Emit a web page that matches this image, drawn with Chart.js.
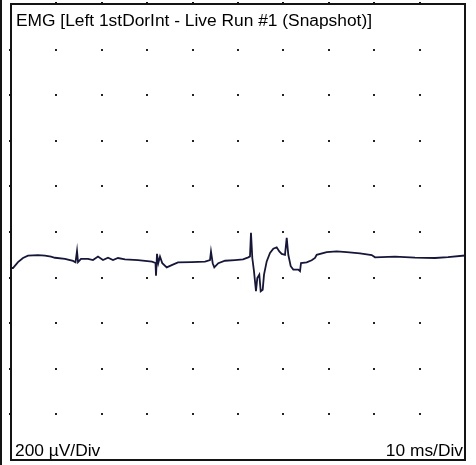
<!DOCTYPE html>
<html>
<head>
<meta charset="utf-8">
<script src="https://cdn.jsdelivr.net/npm/chart.js@4/dist/chart.umd.min.js"></script>
<style>
  html, body { margin: 0; padding: 0; background: #fff; }
  #wrap { width: 476px; height: 465px; position: relative; }
</style>
</head>
<body>
<div id="wrap"><canvas id="emgChart"></canvas></div>
<script>
/*
  EMG snapshot: time (ms) vs amplitude (µV)
*/
var timesMs = [0, 0.44, 1.54, 2.64, 3.74, 5.95, 7.49, 8.81, 9.69, 11.89, 13.66, 14.21, 14.54, 14.76,
  15.42, 16.96, 18.06, 19.16, 20.26, 21.37, 22.47, 23.57, 25.11, 27.97, 31.06, 31.83, 31.94, 32.16,
  32.44, 32.82, 33.33, 34.3, 35.4, 36.78, 39.8, 42.73, 43.83, 44.05, 44.43, 44.78, 45.66, 47.14,
  49.34, 51.1, 52.27, 52.64, 52.86, 53.15, 53.52, 53.96, 54.25, 54.69, 55.0, 55.44, 55.73, 56.32,
  57.05, 57.78, 58.52, 59.1, 59.63, 60.35, 60.73, 61.08, 61.61, 62.18, 63.28, 63.66, 63.88, 65.13,
  66.23, 66.96, 67.33, 69.54, 71.74, 73.94, 76.87, 79.45, 80.18, 84.58, 88.99, 93.39, 96.26, 100];
var emgUv = [-158, -158, -132, -114, -104, -101, -104, -108, -113, -118, -127, -133, -83, -132,
  -118, -118, -123, -108, -123, -113, -123, -114, -120, -123, -130, -136, -192, -96,
  -137, -108, -137, -155, -145, -133, -132, -130, -123, -86, -137, -155, -137, -126,
  -123, -120, -111, -107, -4, -114, -172, -260, -202, -187, -260, -253, -187, -129,
  -92, -73, -67, -85, -96, -100, -26, -100, -150, -165, -165, -172, -136, -133,
  -124, -114, -100, -88, -85, -88, -94, -101, -111, -108, -112, -114, -110, -103];

var xTicks = [0, 10, 20, 30, 40, 50, 60, 70, 80, 90, 100];
var yTicks = [-1000, -800, -600, -400, -200, 0, 200, 400, 600, 800, 1000];

var titleText = 'EMG [Left 1stDorInt - Live Run #1 (Snapshot)]';
var ampLabel = '200 µV/Div';
var timeLabel = '10 ms/Div';

var ink = '#141414';
var traceColor = '#16163a';

var pts = timesMs.map((t, i) => ({x: t, y: emgUv[i]}));

// text drawn a bit wider than Arial, like the scanned print
var wideText = (ctx, txt, x, y, align) => {
  var stretch = 1.085;
  ctx.save();
  ctx.translate(x, y);
  ctx.scale(stretch, 1);
  ctx.textAlign = align;
  ctx.fillText(txt, 0, 0);
  ctx.restore();
}

// grid dots, frame, labels
var scopePlugin = {
  id: 'scope',
  beforeDatasetsDraw(chart) {
    var ctx = chart.ctx;
    var xs = chart.scales.x, ys = chart.scales.y;
    ctx.save();
    ctx.fillStyle = '#222';
    xTicks.slice(1, -1).forEach(tx => {
      yTicks.slice(1, -1).forEach(ty => {
        var px = Math.round(xs.getPixelForValue(tx));
        var py = Math.round(ys.getPixelForValue(ty));
        ctx.fillRect(px - 1, py - 1, 2, 2);
      });
    });
    ctx.restore();
  },
  afterDraw(chart) {
    var ctx = chart.ctx;
    var a = chart.chartArea;
    var xs = chart.scales.x, ys = chart.scales.y;
    ctx.save();
    ctx.strokeStyle = ink;
    ctx.lineWidth = 2;
    ctx.strokeRect(a.left, a.top, a.right - a.left, a.bottom - a.top);
    // stray edge line from the scan
    ctx.beginPath();
    ctx.moveTo(1, 0);
    ctx.lineTo(1, 465);
    ctx.stroke();
    // little ticks on the frame
    ctx.fillStyle = ink;
    xTicks.slice(1, -1).forEach(tx => {
      var px = Math.round(xs.getPixelForValue(tx));
      ctx.fillRect(px - 1, a.top - 2, 2, 2);
    });
    yTicks.slice(1, -1).forEach(ty => {
      var py = Math.round(ys.getPixelForValue(ty));
      ctx.fillRect(a.left - 2, py - 1, 2, 2);
    });
    ctx.fillStyle = '#000';
    ctx.font = '16px "Liberation Sans", Arial, sans-serif';
    ctx.textBaseline = 'alphabetic';
    wideText(ctx, titleText, a.left + 5, a.top + 22, 'left');
    wideText(ctx, ampLabel, a.left + 4, a.bottom - 4, 'left');
    wideText(ctx, timeLabel, a.right - 2, a.bottom - 4, 'right');
    ctx.restore();
  }
};

var emgChart = new Chart(document.getElementById('emgChart'), {
  type: 'line',
  data: {
    datasets: [{
      label: 'EMG',
      data: pts,
      borderColor: traceColor,
      borderWidth: 1.8,
      pointRadius: 0,
      tension: 0,
      fill: false
    }]
  },
  options: {
    responsive: true,
    maintainAspectRatio: false,
    animation: false,
    layout: {
      padding: {left: 11, right: 11, top: 4, bottom: 5}
    },
    scales: {
      x: {type: 'linear', min: 0, max: 100, display: false},
      y: {type: 'linear', min: -1000, max: 1000, display: false}
    },
    plugins: {
      legend: {display: false},
      tooltip: {enabled: false}
    }
  },
  plugins: [scopePlugin]
});
</script>
</body>
</html>
